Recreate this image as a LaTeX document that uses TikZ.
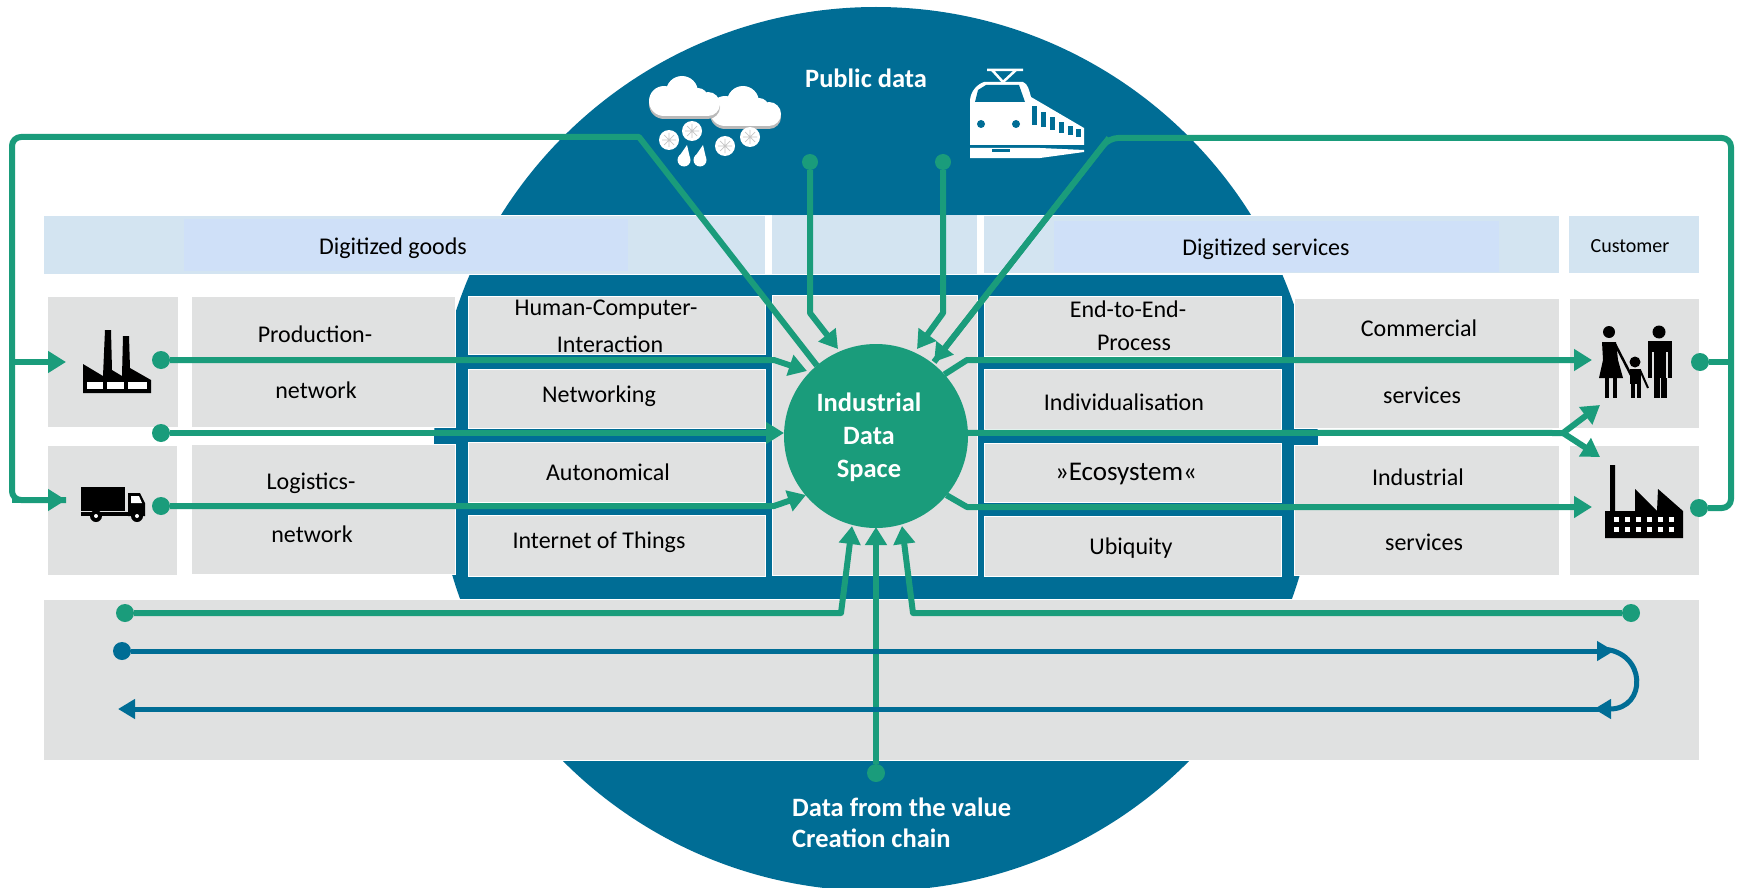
\documentclass[tikz,border=0pt]{standalone}
\usepackage{fontspec}
\setmainfont{Carlito}
\usetikzlibrary{arrows.meta}
\definecolor{grn}{HTML}{1A9C7B}
\definecolor{dblue}{HTML}{006D95}
\definecolor{cellgray}{HTML}{E0E1E1}
\definecolor{headblue}{HTML}{D3E4F1}
\definecolor{headin}{HTML}{CFE0F8}
\newcommand{\mycloud}[3]{%
  \fill[#3] (#1+16,#2+25) circle[radius=15];
  \fill[#3] (#1+34,#2+16) circle[radius=16];
  \fill[#3] (#1+50,#2+22) circle[radius=10];
  \fill[#3] (#1+60,#2+28) circle[radius=12];
  \fill[#3] (#1+16,#2+25) rectangle (#1+60,#2+40);}
\tikzset{
  cell/.style={fill=cellgray,draw=white,line width=1pt},
  headcell/.style={fill=headblue},
  headinner/.style={fill=headin},
  lbl/.style={font=\fontsize{24}{28}\selectfont,text=black,inner sep=0pt},
  wlbl/.style={font=\fontsize{26.5}{31}\selectfont\bfseries,text=white,inner sep=0pt},
  conn/.style={draw=grn,line width=6pt,line join=round},
  harrow/.style={conn,-{Triangle[length=18pt,width=21pt]}},
  bconn/.style={draw=dblue,line width=5pt,line join=round},
  barrow/.style={bconn,-{Triangle[length=17pt,width=19pt]}},
  gdot/.style={circle,fill=grn,inner sep=0pt,minimum size=18pt},
  gdots/.style={circle,fill=grn,inner sep=0pt,minimum size=16pt},
  bdot/.style={circle,fill=dblue,inner sep=0pt,minimum size=18pt},
  icon/.style={fill=black,draw=none},
  wicon/.style={fill=white,draw=none},
}
\begin{document}
\begin{tikzpicture}[x=1pt,y=-1pt]
\useasboundingbox (0,0) rectangle (1737,888);
\fill[white] (0,0) rectangle (1737,888);
\clip (0,0) rectangle (1737,888);
% big circle
\fill[dblue] (876,449) circle[radius=442];
% header zone
\fill[white] (40,215) rectangle (1705,275);
\fill[headcell] (44,216) rectangle (765,274);
\fill[headinner] (184,219) rectangle (628,271);
\fill[headcell] (772,215) rectangle (977,274);
\fill[headcell] (984,216) rectangle (1559,273);
\fill[headinner] (1054,221) rectangle (1499,272);
\fill[headcell] (1569,216) rectangle (1699,273);
% cells
\path[cell] (47.5,296) rectangle (178,427);
\path[cell] (191,296) rectangle (455,427);
\path[cell] (47,445) rectangle (177,575);
\path[cell] (191,444) rectangle (455,574);
\path[cell] (468,296) rectangle (765,354);
\path[cell] (468,369) rectangle (765,428);
\path[cell] (468,442) rectangle (765,502);
\path[cell] (468,515) rectangle (765,576);
\path[cell] (772,295) rectangle (977,575);
\path[cell] (984,296) rectangle (1281,356);
\path[cell] (984,369) rectangle (1281,429);
\path[cell] (984,443) rectangle (1281,502);
\path[cell] (984,516) rectangle (1281,576);
\path[cell] (1294,298) rectangle (1559,428);
\path[cell] (1294,445) rectangle (1559,575);
\path[cell] (1569,298) rectangle (1699,428);
\path[cell] (1569,445) rectangle (1699,575);
\path[cell] (43.5,599) rectangle (1699,760);
% labels
\node[lbl] (tGoods) at (393,248) {Digitized goods};
\node[lbl] (tServ) at (1266,249) {Digitized services};
\node[lbl,font=\fontsize{20}{24}\selectfont] (tCust) at (1630,246) {Customer};
\node[lbl] (tHci) at (606,310) {Human-Computer-};
\node[lbl] (tHcib) at (610,344) {Interaction};
\node[lbl] (tNet) at (599,396) {Networking};
\node[lbl] (tAut) at (608,472) {Autonomical};
\node[lbl] (tIot) at (599,542) {Internet of Things};
\node[lbl] (tProd) at (315,334) {Production-};
\node[lbl] (tProdb) at (316,390) {network};
\node[lbl] (tLog) at (311,483) {Logistics-};
\node[lbl] (tLogb) at (312,534) {network};
\node[lbl] (tE2e) at (1128,309) {End-to-End-};
\node[lbl] (tE2eb) at (1134,343) {Process};
\node[lbl] (tInd) at (1124,402) {Individualisation};
\node[lbl,font=\fontsize{27}{31}\selectfont] (tEco) at (1126,474) {»Ecosystem«};
\node[lbl] (tUbi) at (1131,548) {Ubiquity};
\node[lbl] (tCom) at (1419,328) {Commercial};
\node[lbl] (tComb) at (1422,395) {services};
\node[lbl] (tIs) at (1418,477) {Industrial};
\node[lbl] (tIsb) at (1424,542) {services};
\node[wlbl] (tPub) at (866,78) {Public data};
\node[wlbl,anchor=west] (tVal) at (792,807) {Data from the value};
\node[wlbl,anchor=west] (tCre) at (792,838) {Creation chain};
% hub
\node[circle,fill=grn,inner sep=0pt,outer sep=0pt,minimum size=184pt] (hub) at (876,436) {};
\node[wlbl,align=center,font=\fontsize{26.5}{33}\selectfont\bfseries] (tHub) at (869,437) {Industrial\\Data\\Space};
% dots
\node[gdot] (dProd) at (161,360) {};
\node[gdot] (dMid) at (161,433) {};
\node[gdot] (dLog) at (161,506) {};
\node[gdot] (dFam) at (1700,362) {};
\node[gdot] (dFac) at (1699,508) {};
\node[gdots] (dPubL) at (810,162) {};
\node[gdots] (dPubR) at (943,162) {};
\node[gdot] (dBotL) at (125,613) {};
\node[gdot] (dBotR) at (1631,613) {};
\node[gdot] (dVal) at (876,773) {};
\node[bdot] (dBlue) at (122,651) {};
% way points
\coordinate (tipProd) at (807,371);
\coordinate (kProd) at (774,360);
\coordinate (tipMid) at (784,433);
\coordinate (tipLog) at (806,495);
\coordinate (kLog) at (774,506);
\coordinate (kPubL) at (810,313);
\coordinate (tipPubL) at (838,349);
\coordinate (kPubR) at (943,313);
\coordinate (tipPubR) at (917,349);
\coordinate (fbLa) at (639,137);
\coordinate (fbLb) at (12,137);
\coordinate (fbLc) at (12,500);
\coordinate (tipFac1) at (66,500);
\coordinate (brL) at (12,362);
\coordinate (tipFac2) at (66,362);
\coordinate (fbRv) at (1731,362);
\coordinate (fbRc) at (1731,508);
\coordinate (fbRb) at (1731,138);
\coordinate (fbRa) at (1109,138);
\coordinate (tipFb) at (934,362);
\coordinate (kO1) at (967,360);
\coordinate (tipO1) at (1592,360);
\coordinate (brO) at (1563,433);
\coordinate (tipO2a) at (1600,405);
\coordinate (tipO2b) at (1600,457);
\coordinate (kO3) at (967,507);
\coordinate (tipO3) at (1592,507);
\coordinate (kBotL) at (841,613);
\coordinate (tipBotL) at (852,526);
\coordinate (kBotR) at (913,613);
\coordinate (tipBotR) at (902,526);
\coordinate (tipVal) at (876,527);
\coordinate (tipBlue) at (1614,651);
\coordinate (arcS) at (1602,649);
\coordinate (arcE) at (1594,709);
\coordinate (blueR) at (1600,709);
\coordinate (tipBlueL) at (118,709);
% green connectors
\draw[conn] (hub.130) -- (fbLa) [rounded corners=9pt] -- (fbLb) -- (fbLc) [sharp corners] -- (tipFac1);
\draw[harrow] (fbLc) -- (tipFac1);
\draw[harrow] (brL) -- (tipFac2);
\draw[conn,rounded corners=9pt] (dFac) -- (fbRc) -- (fbRb) -- (fbRa) [sharp corners] -- (tipFb);
\draw[harrow] (fbRa) -- (tipFb);
\draw[conn] (dFam) -- (fbRv);
\draw[harrow] (dProd) -- (kProd) -- (tipProd);
\draw[harrow] (dMid) -- (tipMid);
\draw[harrow] (dLog) -- (kLog) -- (tipLog);
\draw[harrow] (dPubL) -- (kPubL) -- (tipPubL);
\draw[harrow] (dPubR) -- (kPubR) -- (tipPubR);
\draw[harrow] (hub.42) -- (kO1) -- (tipO1);
\draw[conn] (hub.2) -- (brO);
\draw[harrow] (brO) -- (tipO2a);
\draw[harrow] (brO) -- (tipO2b);
\draw[harrow] (hub.-40) -- (kO3) -- (tipO3);
\draw[harrow] (dBotL) -- (kBotL) -- (tipBotL);
\draw[harrow] (dBotR) -- (kBotR) -- (tipBotR);
\draw[harrow] (dVal) -- (tipVal);
% blue connectors
\draw[barrow] (dBlue) -- (tipBlue);
\draw[barrow] (arcS) .. controls (1647,651) and (1647,709) .. (arcE);
\draw[barrow] (blueR) -- (tipBlueL);
% factory 1
\fill[icon] (83,393) -- (83,364) -- (103,376) -- (105,330) -- (111,330) -- (112,370) -- (122,376) -- (123,336) -- (129,336) -- (130,368) -- (151,380) -- (151,393) -- cycle;
\fill[white] (87,382) rectangle (103,389);
\fill[white] (107,382) rectangle (124,389);
\fill[white] (128,382) rectangle (147,389);
% truck
\fill[icon] (81,487) rectangle (125,511);
\fill[icon] (128,493) -- (140,493) -- (145,503) -- (145,516) -- (128,516) -- cycle;
\fill[icon] (81,512) rectangle (145,516);
\fill[white] (131,496) -- (139,496) -- (142,503) -- (131,503) -- cycle;
\fill[icon] (96,516) circle[radius=6];
\fill[icon] (137,516) circle[radius=6];
\fill[white] (96,516) circle[radius=2];
\fill[white] (137,516) circle[radius=2];
% family
\fill[icon] (1659,332) circle[radius=6.5];
\fill[icon] (1648,341) rectangle (1672,378);
\draw[cellgray,line width=1.2pt] (1653,352) -- (1653,379) (1667,352) -- (1667,379);
\fill[cellgray] (1647,378) rectangle (1652.5,382);
\fill[cellgray] (1667.5,378) rectangle (1673,382);
\fill[icon] (1653.5,378) rectangle (1659.5,398);
\fill[icon] (1661,378) rectangle (1667,398);
\fill[icon] (1609,332) circle[radius=6];
\fill[icon] (1602,342) -- (1616,342) -- (1618,360) -- (1623,378) -- (1599,378) -- (1603,360) -- cycle;
\fill[icon] (1605,378) rectangle (1609,398);
\fill[icon] (1613,378) rectangle (1617,398);
\draw[black,line width=2.5pt] (1615,344) -- (1631,375);
\fill[icon] (1635,362) circle[radius=5.5];
\fill[icon] (1630,369) rectangle (1641,384);
\fill[icon] (1631,384) rectangle (1634.5,398);
\fill[icon] (1637,384) rectangle (1640.5,398);
\draw[black,line width=2pt] (1640,370) -- (1648,388);
% factory 2
\fill[icon] (1605,538) -- (1605,511) -- (1610,511) -- (1610,465) -- (1615,465) -- (1615,511) -- (1635,511) -- (1635,489) -- (1657,511) -- (1658,489) -- (1683,511) -- (1683,538) -- cycle;
\foreach \wx in {1614,1625,1636,1647,1658,1669}{
  \fill[white] (\wx,517) rectangle ++(5,5);
  \fill[white] (\wx,527) rectangle ++(5,5);
}
% clouds
\mycloud{709}{89}{gray!55}
\mycloud{709}{86}{white}
\mycloud{648}{79}{gray!55}
\mycloud{648}{76}{white}
\foreach \fx/\fy in {669/140,692/131,725/146,750/137}{
  \fill[white] (\fx,\fy) circle[radius=10];
  \draw[gray!45,line width=0.7pt] (\fx-7,\fy) -- (\fx+7,\fy) (\fx,\fy-7) -- (\fx,\fy+7) (\fx-5,\fy-5) -- (\fx+5,\fy+5) (\fx-5,\fy+5) -- (\fx+5,\fy-5);
}
\foreach \dx in {684,700}{
  \fill[white] (\dx,160) circle[radius=6.5];
  \fill[white] (\dx+3,145) -- (\dx-6,158) -- (\dx+6,158) -- cycle;
}
% train
\draw[white,line width=2.5pt] (987,70) -- (1023,70) (992,70) -- (1003,82) -- (1016,70);
\fill[wicon] (970,100) .. controls (971,90) and (978,84) .. (984,82) -- (1023,82) .. controls (1028,84) and (1029,90) .. (1031,97) -- (1084,128) -- (1084,145) -- (970,145) -- cycle;
\fill[dblue] (975,102) -- (978,90) -- (986,85) -- (1019,85) -- (1025,102) -- cycle;
\fill[dblue] (981,124) circle[radius=4];
\fill[dblue] (1016,124) circle[radius=4];
\foreach \wx/\wy/\wb in {1032/106/125,1041/112/127,1050/117/130,1059/122/133,1068/126/135,1076/129/137}{
  \fill[dblue] (\wx,\wy) rectangle (\wx+5,\wb);
}
\fill[wicon] (970,148) -- (1040,148) -- (1084,150) -- (1084,152) -- (1040,158) -- (970,158) -- cycle;
\fill[dblue] (992,149) rectangle (1010,152);
\end{tikzpicture}
\end{document}
